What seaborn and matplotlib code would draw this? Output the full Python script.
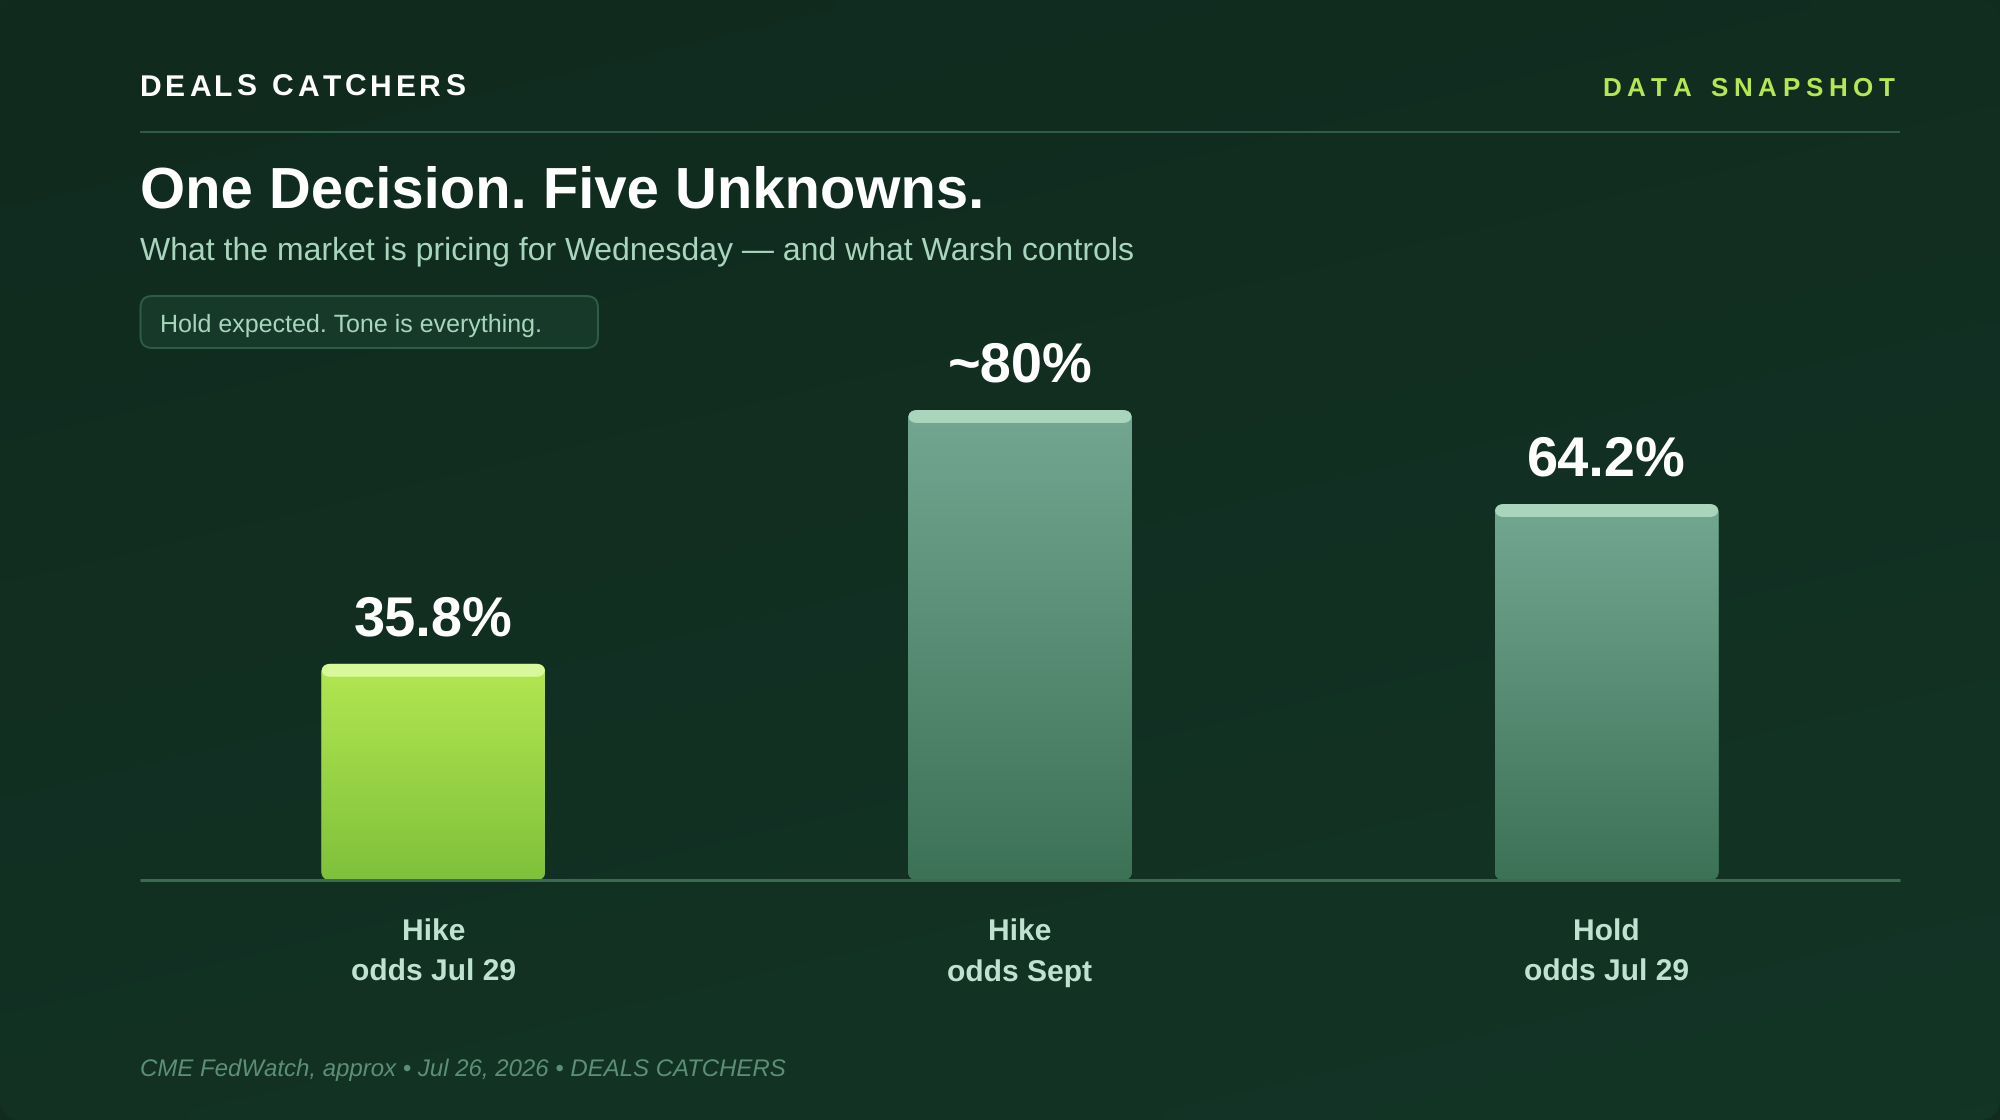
import numpy as np
import matplotlib
matplotlib.use("Agg")
import matplotlib.pyplot as plt
import seaborn as sns
from matplotlib.colors import LinearSegmentedColormap
from matplotlib.font_manager import findfont, get_font
from matplotlib.ft2font import LoadFlags
from matplotlib.patches import FancyBboxPatch
from matplotlib.text import Text
from matplotlib.transforms import IdentityTransform

W, H = 2000, 1120

categories = ["Hike\nodds Jul 29", "Hike\nodds Sept", "Hold\nodds Jul 29"]
# bar heights as drawn; the first bar stands a little taller than its label
bar_heights = [36.8, 80.0, 64.0]
value_labels = ["35.8%", "~80%", "64.2%"]
bar_colors = [("#b4e751", "#7fc13b", "#d8f89c"),
              ("#74a792", "#3c7256", "#a8d5bc"),
              ("#74a792", "#3c7256", "#a8d5bc")]

sns.set_style("white")
plt.rcParams["font.family"] = ["Liberation Sans", "DejaVu Sans"]
plt.rcParams["text.hinting"] = "no_hinting"
plt.rcParams["text.hinting_factor"] = 1


class SpacedText(Text):
    # matplotlib has no letter-spacing, so the glyphs are laid out one by one
    def __init__(self, x, y, s, spacing, **kw):
        super().__init__(x, y, s, **kw)
        self.spacing = spacing

    def draw(self, renderer):
        prop = self.get_fontproperties()
        font = get_font(findfont(prop))
        font.set_size(prop.get_size_in_points(), self.get_figure().dpi)
        text = self.get_text()
        adv = [font.load_char(ord(c), flags=LoadFlags.NO_HINTING).linearHoriAdvance / 65536
               + self.spacing for c in text]
        x, y = self.get_transform().transform(self.get_position())
        if self.get_ha() == "right":
            x -= sum(adv)
        for c, a in zip(text, adv):
            t = Text(x, y, c, color=self.get_color(), fontproperties=prop, va="baseline",
                     transform=IdentityTransform())
            t.set_figure(self.get_figure())
            t.draw(renderer)
            x += a


def px(size):
    return size * 0.72


fig = plt.figure(figsize=(W / 100, H / 100), dpi=100, facecolor="#112b1f")

bg = fig.add_axes([0, 0, 1, 1], zorder=-1)
bg.axis("off")
xx, yy = np.meshgrid(np.linspace(0, 1, 64), np.linspace(0, 1, 64))
bg_cmap = LinearSegmentedColormap.from_list("bg", ["#102a1e", "#133526"])
bg_im = bg.imshow(xx * 0.3 + yy * 0.7, cmap=bg_cmap, aspect="auto", interpolation="bilinear")
# the card has rounded corners, the figure colour shows outside them
card = FancyBboxPatch((0, 0), W, H, boxstyle="round,pad=0,rounding_size=22",
                      transform=IdentityTransform())
bg_im.set_clip_path(card)

# axes: 1 data unit = 5.875 px, y=0 on the baseline
base_y = 880
unit = 5.875
ax_h = 600
ax = fig.add_axes([140 / W, 1 - base_y / H, 1760 / W, ax_h / H])
ax.patch.set_alpha(0)

sns.barplot(x=categories, y=bar_heights, ax=ax, width=224 / (1760 / 3), color="#3c7256",
            saturation=1, linewidth=0)
ax.set_xlim(-0.5, 2.5)
ax.set_ylim(0, ax_h / unit)
sns.despine(ax=ax, left=True, bottom=True)
ax.set_yticks([])
ax.set_ylabel("")
ax.tick_params(axis="x", length=0, pad=px(39), labelsize=px(30), labelcolor="#bfe3d0")
for lab in ax.get_xticklabels():
    lab.set_fontweight("bold")
    lab.set_linespacing(1.55)

x_per_px = 3 / 1760
y_per_px = 1 / unit
aspect = y_per_px / x_per_px


def rounded(x, y, w, h, r_px):
    r = r_px * x_per_px
    p = FancyBboxPatch((x, y), w, h, boxstyle=f"round,pad=0,rounding_size={r}",
                       mutation_aspect=aspect, linewidth=0, transform=ax.transData)
    return p


for bar, (top, bottom, cap_col) in zip(ax.patches, bar_colors):
    x, w, h = bar.get_x(), bar.get_width(), bar.get_height()
    clip = rounded(x, 0, w, h, 9)
    ax.add_patch(clip)
    clip.set_visible(False)
    bar.set_clip_path(clip)
    cmap = LinearSegmentedColormap.from_list("bar", [top, bottom])
    im = ax.imshow(np.linspace(0, 1, 256)[:, None], cmap=cmap, aspect="auto",
                   extent=(x, x + w, 0, h), zorder=2)
    im.set_clip_path(clip)
    cap = rounded(x, h - 13 * y_per_px, w, 13 * y_per_px, 9)
    cap.set_facecolor(cap_col)
    cap.set_zorder(3)
    cap.set_clip_path(clip)
    ax.add_patch(cap)

ax.set_xlim(-0.5, 2.5)
ax.set_ylim(0, ax_h / unit)

ax.bar_label(ax.containers[0], labels=value_labels, padding=px(17), color="white",
             fontsize=px(56.5), fontweight="bold", zorder=5)
ax.axhline(0, color="#3b6b51", lw=px(3), zorder=4, clip_on=False, solid_capstyle="butt")


def ftext(x, y, s, **kw):
    return fig.text(x / W, 1 - y / H, s, va="baseline", **kw)


fig.add_artist(SpacedText(140 / W, 1 - 96 / H, "DEALS CATCHERS", 3.7, color="white",
                          fontsize=px(30), fontweight="bold", transform=fig.transFigure))
fig.add_artist(SpacedText(1900 / W, 1 - 96 / H, "DATA SNAPSHOT", 5.7, color="#b4e751",
                          fontsize=px(26), fontweight="bold", ha="right",
                          transform=fig.transFigure))
fig.add_artist(plt.Line2D([140 / W, 1900 / W], [1 - 131.5 / H] * 2, color="#2f5c46",
                          lw=px(2), solid_capstyle="butt", transform=fig.transFigure))

ftext(140, 207, "One Decision. Five Unknowns.", color="white", fontsize=px(58), fontweight="bold")
ftext(140, 259, "What the market is pricing for Wednesday \u2014 and what Warsh controls",
      color="#a8d5bc", fontsize=px(32))

pill_ax = fig.add_axes([0, 0, 1, 1], zorder=1)
pill_ax.axis("off")
pill_ax.set_xlim(0, W)
pill_ax.set_ylim(H, 0)
pill_ax.add_patch(FancyBboxPatch((140.5, 296), 457.5, 52, boxstyle="round,pad=0,rounding_size=12",
                                 facecolor="#16392a", edgecolor="#2f5c46", linewidth=px(2)))
pill_ax.text(160, 331.5, "Hold expected. Tone is everything.", color="#a8d5bc",
             fontsize=px(25), va="baseline")

ftext(140, 1076, "CME FedWatch, approx \u2022 Jul 26, 2026 \u2022 DEALS CATCHERS",
      color="#5d8f78", fontsize=px(24), fontstyle="italic")

fig.savefig("out.png", dpi=100)
